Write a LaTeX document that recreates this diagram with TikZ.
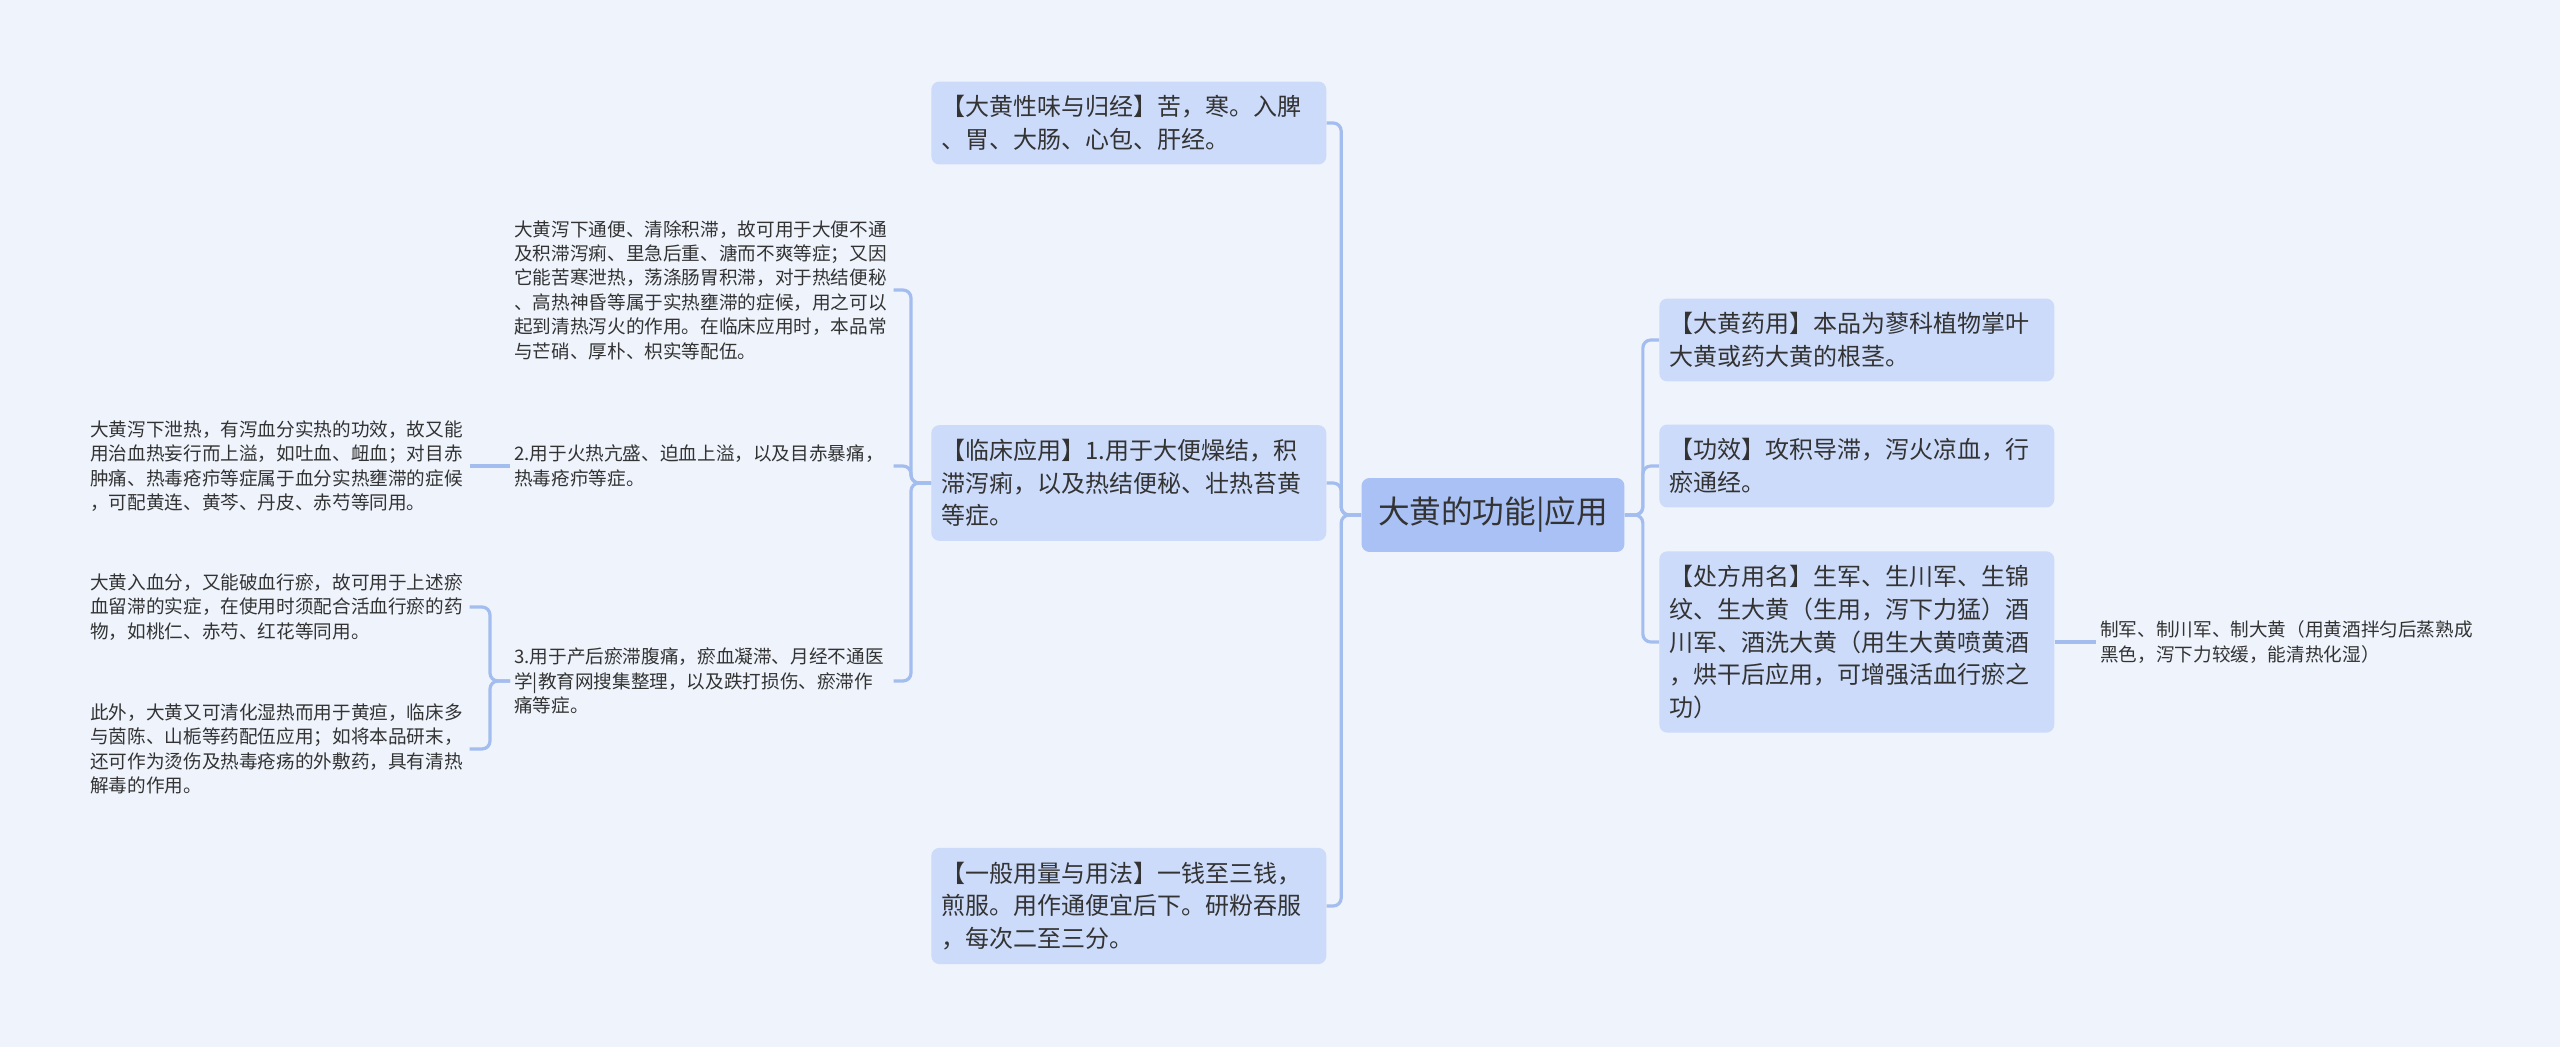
\documentclass[tikz,border=0pt]{standalone}
\usepackage{fontspec}
\setmainfont{Noto Sans CJK SC}
\definecolor{paperblue}{HTML}{EEF3FC}
\definecolor{boxblue}{HTML}{CCDBFA}
\definecolor{rootblue}{HTML}{A9C1F5}
\definecolor{linkblue}{HTML}{A3BDEE}
\definecolor{inkgray}{HTML}{333333}

\begin{document}
\begin{tikzpicture}[
  x=0.02cm, y=-0.02cm,
  topic/.style={
    rectangle,
    rounded corners=0.16cm,
    fill=rootblue,
    text=inkgray,
    font=\fontsize{18pt}{21pt}\selectfont,
    minimum width=5.26cm,
    minimum height=1.48cm,
    inner sep=0pt
  },
  branch/.style={
    rectangle,
    rounded corners=0.16cm,
    fill=boxblue,
    text=inkgray,
    font=\fontsize{13.66pt}{18.6pt}\selectfont,
    text width=7.5cm,
    align=left,
    inner xsep=0.2cm,
    inner ysep=0.28cm,
    anchor=west
  },
  leaf/.style={
    text=inkgray,
    font=\fontsize{10.6pt}{13.9pt}\selectfont,
    text width=7.5cm,
    align=left,
    inner sep=0.08cm,
    anchor=west
  },
  link/.style={draw=linkblue, line width=1.8pt, rounded corners=0.16cm}
]
  \fill[paperblue] (0,0) rectangle (2560,1047);
  \useasboundingbox (0,0) rectangle (2560,1047);
  \node[topic] (root) at (1493,515) {大黄的功能|应用};
  \node[branch] (xingwei) at (931,123) {【大黄性味与归经】苦，寒。入脾\\、胃、大肠、心包、肝经。};
  \node[branch] (linchuang) at (931,483) {【临床应用】1.用于大便燥结，积\\滞泻痢，以及热结便秘、壮热苔黄\\等症。};
  \node[branch] (yongliang) at (931,906) {【一般用量与用法】一钱至三钱，\\煎服。用作通便宜后下。研粉吞服\\，每次二至三分。};
  \node[branch] (yaoyong) at (1659,340) {【大黄药用】本品为蓼科植物掌叶\\大黄或药大黄的根茎。};
  \node[branch] (gongxiao) at (1659,466) {【功效】攻积导滞，泻火凉血，行\\瘀通经。};
  \node[branch] (chufang) at (1659,642) {【处方用名】生军、生川军、生锦\\纹、生大黄（生用，泻下力猛）酒\\川军、酒洗大黄（用生大黄喷黄酒\\，烘干后应用，可增强活血行瘀之\\功）};
  \node[leaf] (zhijun) at (2096,642) {制军、制川军、制大黄（用黄酒拌匀后蒸熟成\\黑色，泻下力较缓，能清热化湿）};
  \node[leaf] (xiexia) at (510,290) {大黄泻下通便、清除积滞，故可用于大便不通\\及积滞泻痢、里急后重、溏而不爽等症；又因\\它能苦寒泄热，荡涤肠胃积滞，对于热结便秘\\、高热神昏等属于实热壅滞的症候，用之可以\\起到清热泻火的作用。在临床应用时，本品常\\与芒硝、厚朴、枳实等配伍。};
  \node[leaf] (huore) at (510,466) {2.用于火热亢盛、迫血上溢，以及目赤暴痛，\\热毒疮疖等症。};
  \node[leaf] (chanhou) at (510,681) {3.用于产后瘀滞腹痛，瘀血凝滞、月经不通医\\学|教育网搜集整理，以及跌打损伤、瘀滞作\\痛等症。};
  \node[leaf] (xiere) at (86,466) {大黄泻下泄热，有泻血分实热的功效，故又能\\用治血热妄行而上溢，如吐血、衄血；对目赤\\肿痛、热毒疮疖等症属于血分实热壅滞的症候\\，可配黄连、黄芩、丹皮、赤芍等同用。};
  \node[leaf] (xueyu) at (86,607) {大黄入血分，又能破血行瘀，故可用于上述瘀\\血留滞的实症，在使用时须配合活血行瘀的药\\物，如桃仁、赤芍、红花等同用。};
  \node[leaf] (shire) at (86,749) {此外，大黄又可清化湿热而用于黄疸，临床多\\与茵陈、山栀等药配伍应用；如将本品研末，\\还可作为烫伤及热毒疮疡的外敷药，具有清热\\解毒的作用。};
  \draw[link] (root.west) -- ++(-20,0) |- (xingwei.east);
  \draw[link] (root.west) -- ++(-20,0) |- (linchuang.east);
  \draw[link] (root.west) -- ++(-20,0) |- (yongliang.east);
  \draw[link] (root.east) -- ++(18,0) |- (yaoyong.west);
  \draw[link] (root.east) -- ++(18,0) |- (gongxiao.west);
  \draw[link] (root.east) -- ++(18,0) |- (chufang.west);
  \draw[link] (chufang.east) -- (zhijun.west);
  \draw[link] (linchuang.west) -- ++(-20,0) |- (xiexia.east);
  \draw[link] (linchuang.west) -- ++(-20,0) |- (huore.east);
  \draw[link] (linchuang.west) -- ++(-20,0) |- (chanhou.east);
  \draw[link] (huore.west) -- (xiere.east);
  \draw[link] (chanhou.west) -- ++(-20,0) |- (xueyu.east);
  \draw[link] (chanhou.west) -- ++(-20,0) |- (shire.east);
\end{tikzpicture}
\end{document}
